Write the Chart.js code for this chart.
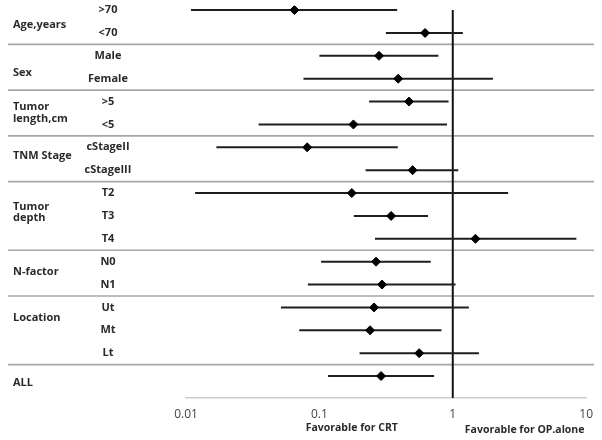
<!DOCTYPE html>
<html>
<head>
<meta charset="utf-8">
<script src="https://cdn.jsdelivr.net/npm/chart.js@4.4.1/dist/chart.umd.min.js"></script>
<style>
    body { margin: 0; background: #fff; }
    canvas { display: block; }
</style>
</head>
<body>
<canvas id="forestChart" width="602" height="440"></canvas>
<script>
// Dữ liệu biểu đồ
var rowLabels = ['>70', '<70', 'Male', 'Female', '>5', '<5', 'cStageII', 'cStageIII', 'T2', 'T3', 'T4', 'N0', 'N1', 'Ut', 'Mt', 'Lt', ''];
var groupNames = [['Age,years'], ['Sex'], ['Tumor', 'length,cm'], ['TNM Stage'], ['Tumor', 'depth'], ['N-factor'], ['Location'], ['ALL']];
var groupFirstRow = [0, 2, 4, 6, 8, 11, 13, 16];
var groupLastRow = [1, 3, 5, 7, 10, 12, 15, 16];
var estimates = [0.065, 0.62, 0.28, 0.39, 0.47, 0.18, 0.081, 0.50, 0.175, 0.345, 1.48, 0.266, 0.295, 0.257, 0.24, 0.56, 0.29];
var lowerCI = [0.0109, 0.315, 0.100, 0.076, 0.236, 0.035, 0.0169, 0.222, 0.0117, 0.181, 0.261, 0.103, 0.082, 0.0515, 0.0706, 0.200, 0.116];
var upperCI = [0.383, 1.19, 0.78, 2.00, 0.93, 0.906, 0.387, 1.10, 2.60, 0.653, 8.45, 0.684, 1.05, 1.32, 0.823, 1.57, 0.724];
var xTicks = [0.01, 0.1, 1, 10];
var axisNotes = ['Favorable for CRT', 'Favorable for OP.alone'];
var noteValues = [0.175, 3.46];

var labelFont = 'bold 11px "Open Sans"';
var groupLabelShift = [0.15, 0.24, 0, -0.11, -0.16, -0.04, -0.55, 0.28];
var yMin = -0.2, yMax = 16.96;

// Vẽ nhãn bên trái, đường phân cách nhóm và chú thích dưới trục
var sidePlugin = {
    id: 'sideLabels',
    beforeDatasetsDraw: function (chart) {
        var ctx = chart.ctx;
        var y = chart.scales.y;
        ctx.save();
        ctx.strokeStyle = '#a6a6a6';
        ctx.lineWidth = 1.6;
        for (var g = 0; g < groupLastRow.length - 1; g++) {
            var py = y.getPixelForValue(groupLastRow[g] + 0.5);
            ctx.beginPath();
            ctx.moveTo(8, py);
            ctx.lineTo(594, py);
            ctx.stroke();
        }
        ctx.restore();
    },
    afterDraw: function (chart) {
        var ctx = chart.ctx;
        var y = chart.scales.y;
        var x = chart.scales.x;
        ctx.save();
        ctx.fillStyle = '#2a2a2a';
        ctx.font = labelFont;
        ctx.textBaseline = 'middle';

        ctx.textAlign = 'center';
        rowLabels.forEach(function (label, i) {
            if (label) ctx.fillText(label, 108, y.getPixelForValue(i));
        });

        ctx.textAlign = 'left';
        groupNames.forEach(function (lines, g) {
            var mid = (groupFirstRow[g] + groupLastRow[g]) / 2 + groupLabelShift[g];
            var cy = y.getPixelForValue(mid);
            var lh = 11.5;
            lines.forEach(function (line, k) {
                ctx.fillText(line, 13, cy + (k - (lines.length - 1) / 2) * lh);
            });
        });

        ctx.font = 'bold 10.5px "Open Sans"';
        ctx.textAlign = 'center';
        ctx.fillText(axisNotes[0], x.getPixelForValue(noteValues[0]), 428);
        ctx.fillText(axisNotes[1], x.getPixelForValue(noteValues[1]), 430);
        ctx.restore();
    }
};

var datasets = [];
// điểm ước lượng (hình thoi)
datasets.push({
    data: estimates.map(function (v, i) { return { x: v, y: i }; }),
    showLine: false,
    pointStyle: 'rectRot',
    pointRadius: 4.5,
    pointBackgroundColor: '#000',
    pointBorderColor: '#000',
    order: 0
});
// khoảng tin cậy
estimates.forEach(function (v, i) {
    datasets.push({
        data: [{ x: lowerCI[i], y: i }, { x: upperCI[i], y: i }],
        showLine: true,
        borderColor: '#1e1e1e',
        borderWidth: 2,
        pointRadius: 0,
        order: 1
    });
});
// đường tham chiếu tại 1
datasets.push({
    data: [{ x: 1, y: 0 }, { x: 1, y: yMax }],
    showLine: true,
    borderColor: '#111',
    borderWidth: 2,
    pointRadius: 0,
    order: 1
});

var ctx = document.getElementById('forestChart').getContext('2d');
var forestChart = new Chart(ctx, {
    type: 'scatter',
    data: { datasets: datasets },
    options: {
        responsive: false,
        animation: false,
        layout: { padding: { left: 186, right: 15, top: 0, bottom: 9.6 } },
        plugins: {
            legend: { display: false },
            tooltip: { enabled: false }
        },
        scales: {
            x: {
                type: 'logarithmic',
                min: 0.01,
                max: 10,
                afterBuildTicks: function (axis) {
                    axis.ticks = xTicks.map(function (v) { return { value: v }; });
                },
                grid: { display: false, drawTicks: false },
                border: { display: true, color: '#cccccc', width: 1.5 },
                ticks: {
                    padding: 9,
                    color: '#444',
                    font: { family: 'Open Sans', size: 12 },
                    maxRotation: 0,
                    autoSkip: false,
                    callback: function (value) { return String(value); }
                }
            },
            y: {
                type: 'linear',
                display: false,
                reverse: true,
                min: yMin,
                max: yMax
            }
        }
    },
    plugins: [sidePlugin]
});
</script>
</body>
</html>
